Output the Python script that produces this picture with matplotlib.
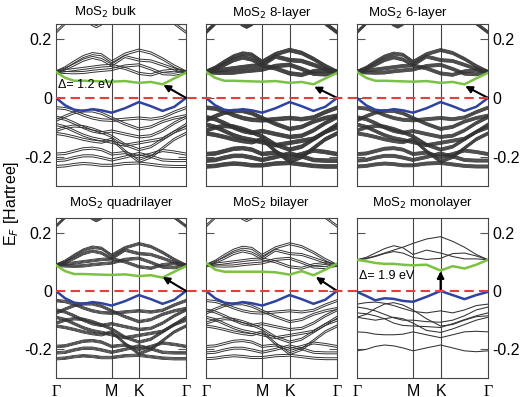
import numpy as np
import matplotlib
matplotlib.use("Agg")
import matplotlib.pyplot as plt
from matplotlib.lines import Line2D
from matplotlib import transforms

plt.rcParams['font.family'] = ['Liberation Sans', 'DejaVu Sans']

# k path (fractions of the panel width) and high-symmetry labels
k_grid = [0, 0.07, 0.14, 0.21, 0.28, 0.35, 0.428, 0.53, 0.638, 0.73, 0.82, 0.91, 1.0]
k_ticks = [0, 0.428, 0.638, 1.0]
k_labels = ['Γ', 'M', 'K', 'Γ']

# multilayer bands [Hartree]
mc_high = [0.222, 0.252, 0.35, 0.35, 0.35, 0.35, 0.35, 0.35, 0.35, 0.35, 0.35, 0.252, 0.222]
mc1 = [0.088, 0.102, 0.122, 0.140, 0.150, 0.146, 0.122, 0.148, 0.162, 0.152, 0.132, 0.108, 0.088]
mc2 = [0.088, 0.098, 0.112, 0.128, 0.137, 0.130, 0.111, 0.140, 0.128, 0.125, 0.112, 0.098, 0.088]
mc3 = [0.088, 0.086, 0.085, 0.086, 0.090, 0.093, 0.096, 0.108, 0.112, 0.098, 0.082, 0.080, 0.088]
mc4 = [0.088, 0.092, 0.096, 0.100, 0.104, 0.108, 0.110, 0.100, 0.083, 0.078, 0.090, 0.094, 0.088]
mv1 = [-0.033, -0.036, -0.045, -0.058, -0.068, -0.074, -0.076, -0.072, -0.068, -0.072, -0.066, -0.048, -0.033]
mv2 = [-0.076, -0.062, -0.050, -0.044, -0.044, -0.052, -0.068, -0.088, -0.105, -0.098, -0.080, -0.068, -0.060]
mv3 = [-0.065, -0.072, -0.085, -0.100, -0.112, -0.118, -0.112, -0.122, -0.132, -0.128, -0.110, -0.085, -0.065]
mv4 = [-0.110, -0.100, -0.095, -0.097, -0.105, -0.116, -0.130, -0.158, -0.175, -0.165, -0.140, -0.115, -0.100]
mv5 = [-0.090, -0.098, -0.112, -0.126, -0.136, -0.142, -0.150, -0.160, -0.152, -0.145, -0.138, -0.115, -0.090]
mv6 = [-0.120, -0.125, -0.132, -0.140, -0.146, -0.150, -0.140, -0.180, -0.215, -0.200, -0.170, -0.140, -0.120]
mv7 = [-0.190, -0.188, -0.180, -0.172, -0.170, -0.175, -0.190, -0.185, -0.200, -0.190, -0.178, -0.183, -0.190]
mv8 = [-0.212, -0.210, -0.202, -0.196, -0.196, -0.202, -0.210, -0.200, -0.188, -0.198, -0.210, -0.212, -0.212]
mv9 = [-0.232, -0.230, -0.225, -0.222, -0.224, -0.228, -0.228, -0.222, -0.220, -0.225, -0.230, -0.232, -0.232]
multi_bands = [mc_high, mc1, mc2, mc3, mc4, mv1, mv2, mv3, mv4, mv5, mv6, mv7, mv8, mv9]

# small pocket near the top of the window (multilayers)
pocket_k = [0.22, 0.27, 0.31, 0.35, 0.40]
pocket_e = [0.275, 0.250, 0.241, 0.250, 0.275]

# monolayer bands
oc1 = [0.107, 0.115, 0.130, 0.145, 0.155, 0.148, 0.125, 0.140, 0.130, 0.118, 0.110, 0.110, 0.107]
oc2 = [0.107, 0.110, 0.118, 0.128, 0.135, 0.130, 0.115, 0.108, 0.112, 0.128, 0.130, 0.120, 0.107]
oc3 = [0.107, 0.112, 0.120, 0.130, 0.140, 0.150, 0.163, 0.178, 0.186, 0.170, 0.150, 0.125, 0.107]
ov1 = [-0.045, -0.040, -0.038, -0.042, -0.050, -0.060, -0.070, -0.075, -0.068, -0.075, -0.065, -0.050, -0.045]
ov2 = [-0.055, -0.060, -0.068, -0.080, -0.092, -0.100, -0.100, -0.105, -0.107, -0.100, -0.085, -0.065, -0.055]
ov3 = [-0.075, -0.078, -0.085, -0.095, -0.110, -0.118, -0.120, -0.122, -0.125, -0.112, -0.098, -0.085, -0.075]
ov4 = [-0.090, -0.095, -0.100, -0.095, -0.090, -0.095, -0.110, -0.135, -0.142, -0.130, -0.115, -0.100, -0.090]
ov5 = [-0.090, -0.080, -0.060, -0.045, -0.040, -0.048, -0.065, -0.095, -0.120, -0.115, -0.100, -0.088, -0.085]
ov6 = [-0.140, -0.142, -0.148, -0.150, -0.150, -0.148, -0.140, -0.150, -0.160, -0.150, -0.140, -0.138, -0.140]
ov7 = [-0.205, -0.200, -0.190, -0.185, -0.188, -0.195, -0.205, -0.195, -0.185, -0.195, -0.205, -0.208, -0.205]
mono_bands = [oc1, oc2, oc3, ov1, ov2, ov3, ov4, ov5, ov6, ov7]

# band edges (highlighted)
cb_multi = [0.088, 0.068, 0.058, 0.058, 0.057, 0.056, 0.055, 0.057, 0.051, 0.054, 0.046, 0.066, 0.085]
vb_multi = [0.0, -0.025, -0.040, -0.044, -0.038, -0.042, -0.050, -0.035, -0.014, -0.028, -0.044, -0.030, 0.0]
cb_bi = [0.096, 0.073, 0.066, 0.066, 0.066, 0.066, 0.066, 0.064, 0.056, 0.068, 0.054, 0.073, 0.094]
cb_mono = [0.107, 0.102, 0.096, 0.093, 0.093, 0.090, 0.088, 0.090, 0.070, 0.085, 0.077, 0.090, 0.107]
vb_mono = [-0.003, -0.017, -0.032, -0.025, -0.027, -0.034, -0.037, -0.020, 0.0, -0.014, -0.028, -0.014, -0.003]

titles = ['MoS$_2$ bulk', 'MoS$_2$ 8-layer', 'MoS$_2$ 6-layer',
          'MoS$_2$ quadrilayer', 'MoS$_2$ bilayer', 'MoS$_2$ monolayer']
n_copies = [2, 8, 6, 4, 2, 1]
cb_sets = [cb_multi, cb_multi, cb_multi, cb_multi, cb_bi, cb_mono]
vb_sets = [vb_multi, vb_multi, vb_multi, vb_multi, vb_multi, vb_mono]
arrow_tail = [(1.0, 0.0), (1.0, 0.0), (1.0, 0.0), (1.0, 0.0), (1.0, 0.0), (0.638, 0.0)]
arrow_tip = [(0.826, 0.044), (0.826, 0.038), (0.826, 0.040), (0.82, 0.048), (0.838, 0.048), (0.638, 0.068)]
gap_text = {0: 'Δ= 1.2 eV', 5: 'Δ= 1.9 eV'}
gap_y = {0: 0.045, 5: 0.051}

# layout (figure fractions)
col_left = [0.1077, 0.3962, 0.6865]
col_w = [0.250, 0.252, 0.252]
row_bot = [0.5315, 0.0479]
row_h = [0.408, 0.403]
title_x = [0.204, 0.522, 0.785, 0.234, 0.522, 0.813]
title_y = [0.968, 0.968, 0.968, 0.488, 0.488, 0.488]
sep_pt = [1.5, 0.38, 0.45, 0.6, 1.4, 0.0]
band_lw = [0.7, 0.55, 0.55, 0.6, 0.7, 0.75]

fig = plt.figure(figsize=(5.2, 3.97), dpi=100)
axes = []
for i in range(6):
    r, c = divmod(i, 3)
    ax = fig.add_axes([col_left[c], row_bot[r], col_w[c], row_h[r]])
    axes.append(ax)
    bands = mono_bands if i == 5 else multi_bands
    n = n_copies[i]
    for j in range(n):
        dy = (j - (n - 1) / 2) * sep_pt[i]
        tr = transforms.offset_copy(ax.transData, fig=fig, y=dy, units='points')
        for b in bands:
            ax.plot(k_grid, b, color='#333333', lw=band_lw[i], transform=tr)
        if i != 5:
            ax.plot(pocket_k, pocket_e, color='#333333', lw=band_lw[i], transform=tr)
    ax.plot(k_grid, cb_sets[i], color='#7cc242', lw=1.8, zorder=4)
    ax.plot(k_grid, vb_sets[i], color='#2e44a0', lw=1.8, zorder=4)
    for k in k_ticks[1:3]:
        ax.axvline(k, color='#444444', lw=0.8, zorder=1)
    ax.annotate('', xy=arrow_tip[i], xytext=arrow_tail[i],
                arrowprops=dict(arrowstyle='-|>', color='k', lw=1.5,
                                mutation_scale=10, shrinkA=0, shrinkB=0),
                zorder=6)
    if i in gap_text:
        ax.text(0.015, gap_y[i], gap_text[i], fontsize=9, ha='left', va='center', zorder=7)

    ax.set_xlim(0, 1)
    ax.set_ylim(-0.298, 0.25)
    ax.set_yticks([-0.2, 0, 0.2])
    ax.set_yticklabels(['-0.2', '0', '0.2'])
    ax.tick_params(axis='y', direction='in', length=6, width=0.8, color='#555555',
                   left=True, right=True, labelleft=(c == 0), labelright=(c == 2),
                   labelsize=11.5, pad=3)
    ax.set_xticks(k_ticks)
    ax.set_xticklabels(k_labels)
    ax.tick_params(axis='x', length=0, labelbottom=(r == 1), labelsize=11.5, pad=4)
    for lbl in ax.get_xticklabels():
        if lbl.get_text() == 'Γ':
            lbl.set_family('Liberation Serif')
    for s in ax.spines.values():
        s.set_linewidth(0.8)
        s.set_color('#444444')
    fig.text(title_x[i], title_y[i], titles[i], fontsize=9.5, ha='center', va='center')

# Fermi level dashed line across each row
for r in range(2):
    ax = axes[3 * r]
    tr = transforms.blended_transform_factory(fig.transFigure, ax.transData)
    fig.add_artist(Line2D([col_left[0], col_left[2] + col_w[2]], [0, 0], transform=tr,
                          color='#e2413a', lw=1.5, dashes=(4.5, 2.5), zorder=5))

fig.text(0.022, 0.487, 'E$_F$ [Hartree]', rotation=90, fontsize=11.5, ha='center', va='center')

fig.savefig('out.png', dpi=100)
